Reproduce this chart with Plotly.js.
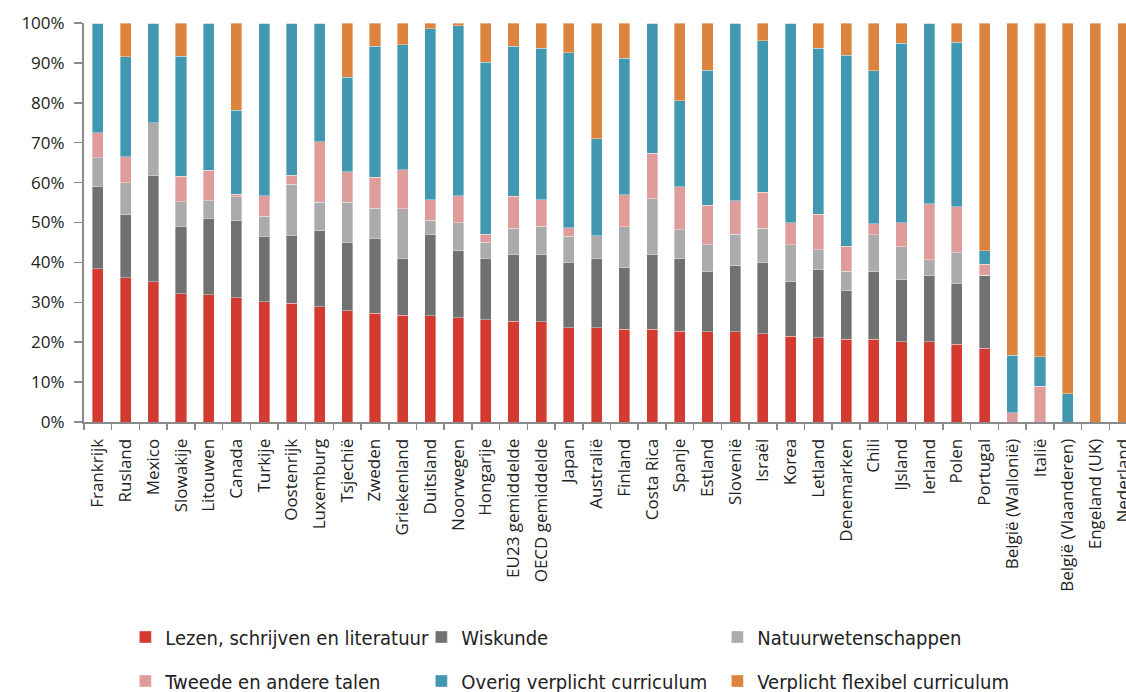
<!DOCTYPE html>
<html>
<head>
<meta charset="utf-8">
<script src="https://cdn.plot.ly/plotly-3.0.1.min.js"></script>
<style>
html,body{margin:0;padding:0;overflow:hidden;background:#fff;}
#chart{width:1150px;height:692px;}
</style>
</head>
<body>
<div id="chart"></div>
<script>
const categories = ["Frankrijk","Rusland","Mexico","Slowakije","Litouwen","Canada","Turkije","Oostenrijk","Luxemburg","Tsjechië","Zweden","Griekenland","Duitsland","Noorwegen","Hongarije","EU23 gemiddelde","OECD gemiddelde","Japan","Australië","Finland","Costa Rica","Spanje","Estland","Slovenië","Israël","Korea","Letland","Denemarken","Chili","IJsland","Ierland","Polen","Portugal","België (Wallonië)","Italië","België (Vlaanderen)","Engeland (UK)","Nederland"];

const lezen    = [38.4,36.2,35.1,32.2,31.9,31.2,30.1,29.8,28.9,27.9,27.3,26.7,26.6,26.1,25.6,25.3,25.1,23.6,23.6,23.3,23.2,22.8,22.6,22.6,22.1,21.5,21.1,20.8,20.7,20.1,20.1,19.5,18.5,0,0,0,0,0];
const wiskunde = [20.7,15.8,26.6,16.7,19.2,19.3,16.5,17.0,19.0,17.0,18.8,14.4,20.5,16.8,15.5,16.6,16.8,16.5,17.5,15.4,18.7,18.1,15.1,16.5,17.8,13.6,17.0,12.2,17.0,15.5,16.5,15.3,18.3,0,0,0,0,0];
const natuur   = [7.1,8.0,13.3,6.3,4.4,6.0,5.0,12.8,7.2,10.2,7.5,12.3,3.5,7.0,4.0,6.7,7.1,6.5,5.6,10.2,14.0,7.3,6.7,8.0,8.6,9.3,5.1,4.8,9.2,8.3,4.1,7.6,0,0,0,0,0,0];
const talen    = [6.3,6.5,0,6.4,7.6,0.6,5.1,2.2,15.2,7.6,7.7,9.8,5.1,6.8,1.9,8.0,6.7,2.1,0,8.0,11.5,10.7,9.9,8.3,9.1,5.6,8.9,6.2,2.8,6.1,14.0,11.6,2.8,2.3,8.9,0,0,0];
const overig   = [27.5,25.0,25.0,30.1,36.9,21.0,43.3,38.2,29.7,23.7,32.9,31.3,42.9,42.6,43.2,37.6,38.0,43.9,24.3,34.3,32.6,21.6,33.8,44.6,37.9,50.0,41.6,47.9,38.3,44.9,45.3,41.2,3.3,14.4,7.4,7.1,0,0];
const flexibel = [0,8.5,0,8.3,0,21.9,0,0,0,13.6,5.8,5.5,1.4,0.7,9.8,5.8,6.3,7.4,29.0,8.8,0,19.5,11.9,0,4.5,0,6.3,8.1,12.0,5.1,0,4.8,57.1,83.3,83.7,92.9,100,100];

const seriesNames = ["Lezen, schrijven en literatuur","Wiskunde","Natuurwetenschappen","Tweede en andere talen","Overig verplicht curriculum","Verplicht flexibel curriculum"];
const seriesValues = [lezen, wiskunde, natuur, talen, overig, flexibel];
const seriesColors = ["#D33B30","#717171","#ABABAB","#DE9D9B","#4298B0","#DC843E"];

const traces = seriesValues.map((vals, i) => ({
  type: "bar",
  name: seriesNames[i],
  x: categories,
  y: vals,
  marker: {color: seriesColors[i], line: {color: "rgba(255,255,255,0.45)", width: 0.8}},
  legend: i < 3 ? "legend" : "legend2",
  hoverinfo: "skip"
}));

const legendFont = {family: "Liberation Sans Narrow, DejaVu Sans Condensed, Arial Narrow, sans-serif", size: 20, color: "#222"};

const layout = {
  width: 1150,
  height: 692,
  margin: {l: 84, r: 13, t: 23, b: 270},
  barmode: "stack",
  bargap: 0.6,
  paper_bgcolor: "#fff",
  plot_bgcolor: "#fff",
  font: {family: "Open Sans, Liberation Sans, sans-serif", color: "#222"},
  xaxis: {
    type: "category",
    range: [-0.5, 37.5],
    showline: true, linecolor: "#8a8a8a", linewidth: 2,
    ticks: "outside", tickson: "boundaries", ticklen: 6, tickcolor: "#8a8a8a", tickwidth: 1.5,
    tickangle: -90,
    ticklabelstandoff: 8,
    tickfont: {size: 17, color: "#222"},
    showgrid: false, zeroline: false, fixedrange: true
  },
  yaxis: {
    range: [0, 100],
    tickvals: [0,10,20,30,40,50,60,70,80,90,100],
    ticktext: ["0%","10%","20%","30%","40%","50%","60%","70%","80%","90%","100%"],
    showline: true, linecolor: "#8a8a8a", linewidth: 2,
    ticks: "outside", ticklen: 8, tickcolor: "#8a8a8a", tickwidth: 1.5,
    ticklabelstandoff: 6,
    tickfont: {size: 17, color: "#222"},
    showgrid: false, zeroline: false, fixedrange: true
  },
  legend: {
    orientation: "h", xref: "container", yref: "container",
    x: 0.109, xanchor: "left", y: 1 - 637/692, yanchor: "middle",
    entrywidth: 251, entrywidthmode: "pixels",
    font: legendFont, bgcolor: "rgba(0,0,0,0)", traceorder: "normal"
  },
  legend2: {
    orientation: "h", xref: "container", yref: "container",
    x: 0.109, xanchor: "left", y: 1 - 681/692, yanchor: "middle",
    entrywidth: 251, entrywidthmode: "pixels",
    font: legendFont, bgcolor: "rgba(0,0,0,0)", traceorder: "normal"
  },
  showlegend: true
};

Plotly.newPlot("chart", traces, layout, {displayModeBar: false, staticPlot: true});
</script>
</body>
</html>
